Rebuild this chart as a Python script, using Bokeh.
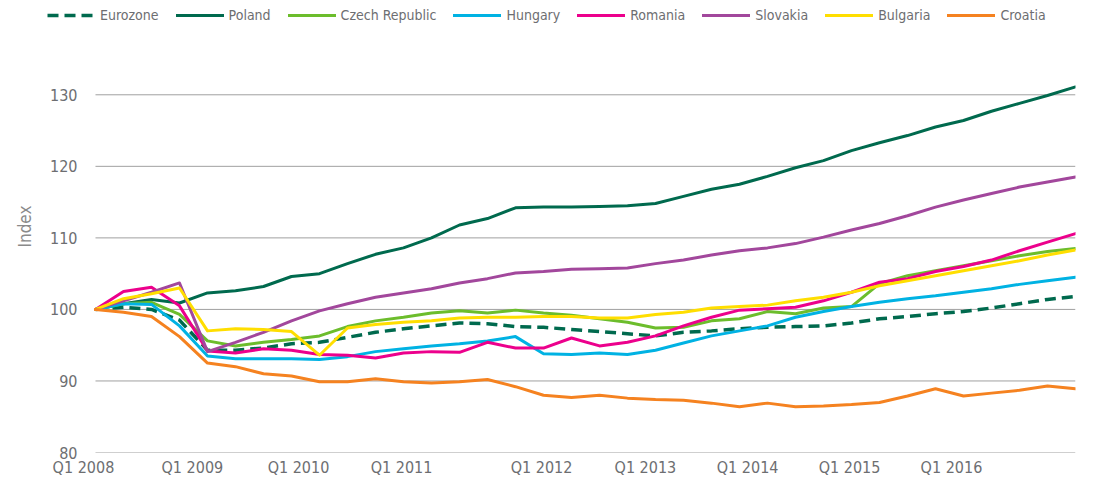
from bokeh.plotting import figure
from bokeh.models import Legend, LegendItem, FixedTicker, Range1d
from bokeh.embed import file_html
from bokeh.resources import INLINE

# quarterly index, Q1 2008 = 100 (Q1 2008 ... Q4 2016)
eurozone = [100, 100.3, 100.0, 98.5, 94.3, 94.3, 94.6, 95.2, 95.4, 96.1, 96.8, 97.3, 97.7, 98.1, 98.0, 97.6,
            97.5, 97.2, 96.9, 96.6, 96.3, 96.8, 97.0, 97.3, 97.5, 97.6, 97.7, 98.1, 98.7, 99.0, 99.4, 99.7,
            100.2, 100.8, 101.4, 101.8]
poland = [100, 100.8, 101.4, 100.9, 102.3, 102.6, 103.2, 104.6, 105.0, 106.4, 107.7, 108.6, 110.0, 111.8, 112.7, 114.2,
          114.3, 114.3, 114.4, 114.5, 114.8, 115.8, 116.8, 117.5, 118.6, 119.8, 120.8, 122.2, 123.3, 124.3, 125.5, 126.4,
          127.7, 128.8, 129.9, 131.1]
czech = [100, 100.8, 101.0, 99.3, 95.6, 94.9, 95.4, 95.8, 96.3, 97.6, 98.4, 98.9, 99.5, 99.8, 99.5, 99.9,
         99.5, 99.2, 98.7, 98.2, 97.4, 97.5, 98.4, 98.7, 99.7, 99.4, 100.2, 100.4, 103.6, 104.7, 105.4, 106.1,
         106.8, 107.5, 108.1, 108.5]
hungary = [100, 100.8, 100.7, 97.7, 93.5, 93.1, 93.1, 93.1, 93.0, 93.4, 94.1, 94.5, 94.9, 95.2, 95.6, 96.2,
           93.8, 93.7, 93.9, 93.7, 94.3, 95.3, 96.3, 97.0, 97.7, 98.9, 99.7, 100.4, 101.0, 101.5, 101.9, 102.4,
           102.9, 103.5, 104.0, 104.5]
romania = [100, 102.5, 103.1, 100.5, 94.2, 93.9, 94.5, 94.3, 93.7, 93.6, 93.2, 93.9, 94.1, 94.0, 95.4, 94.6,
           94.6, 96.0, 94.9, 95.4, 96.3, 97.7, 98.9, 99.9, 100.1, 100.3, 101.2, 102.4, 103.8, 104.3, 105.3, 106.0,
           106.9, 108.2, 109.4, 110.6]
slovakia = [100, 101.2, 102.4, 103.7, 94.1, 95.4, 96.8, 98.4, 99.8, 100.8, 101.7, 102.3, 102.9, 103.7, 104.3, 105.1,
            105.3, 105.6, 105.7, 105.8, 106.4, 106.9, 107.6, 108.2, 108.6, 109.2, 110.1, 111.1, 112.0, 113.1, 114.3, 115.3,
            116.2, 117.1, 117.8, 118.5]
bulgaria = [100, 101.5, 102.2, 103.0, 97.0, 97.3, 97.2, 96.9, 93.6, 97.4, 97.9, 98.2, 98.4, 98.8, 98.9, 98.9,
            99.0, 99.0, 98.8, 98.8, 99.3, 99.6, 100.2, 100.4, 100.6, 101.2, 101.7, 102.4, 103.3, 104.0, 104.7, 105.4,
            106.1, 106.8, 107.6, 108.3]
croatia = [100, 99.6, 99.0, 96.2, 92.5, 92.0, 91.0, 90.7, 89.9, 89.9, 90.3, 89.9, 89.7, 89.9, 90.2, 89.2,
           88.0, 87.7, 88.0, 87.6, 87.4, 87.3, 86.9, 86.4, 86.9, 86.4, 86.5, 86.7, 87.0, 87.9, 88.9, 87.9,
           88.3, 88.7, 89.3, 88.9]

series_names = ["Eurozone", "Poland", "Czech Republic", "Hungary", "Romania", "Slovakia", "Bulgaria", "Croatia"]
series_values = [eurozone, poland, czech, hungary, romania, slovakia, bulgaria, croatia]
series_colors = ["#006a4e", "#006a4e", "#6cbd2c", "#00b2e3", "#ec008c", "#a2479c", "#ffde00", "#f58220"]

x_tick_labels = ["Q1 2008", "Q1 2009", "Q1 2010", "Q1 2011", "Q1 2012", "Q1 2013", "Q1 2014", "Q1 2015", "Q1 2016"]
x_tick_pos = [-0.43, 3.46, 7.25, 10.93, 15.93, 19.64, 23.29, 26.93, 30.57]
y_ticks = [80, 90, 100, 110, 120, 130]

FONT = "DejaVu Sans Condensed, Roboto Condensed, Roboto, sans-serif"
TXT = "#6d6e71"

quarters = list(range(len(poland)))

p = figure(width=1112, height=482, output_backend="svg", toolbar_location=None,
           x_range=Range1d(-1.714, len(quarters) - 1), y_range=Range1d(80, 143.18),
           min_border_left=47, min_border_right=37, min_border_top=0, min_border_bottom=30)
p.outline_line_color = None
p.background_fill_color = "white"
p.border_fill_color = "white"
p.xgrid.visible = False
p.ygrid.visible = False

# horizontal gridlines spanning the data period only
p.segment(x0=[quarters[0]] * len(y_ticks), x1=[quarters[-1]] * len(y_ticks), y0=y_ticks, y1=y_ticks,
          line_color="#a0a0a0", line_width=1)

p.yaxis.ticker = FixedTicker(ticks=y_ticks)
p.xaxis.ticker = FixedTicker(ticks=x_tick_pos)
p.xaxis.major_label_overrides = {t: l for t, l in zip(x_tick_pos, x_tick_labels)}
for ax in (p.xaxis, p.yaxis):
    ax.axis_line_color = None
    ax.major_tick_line_color = None
    ax.minor_tick_line_color = None
    ax.major_tick_out = 0
    ax.major_tick_in = 0
    ax.minor_tick_out = 0
    ax.minor_tick_in = 0
    ax.major_label_text_font = FONT
    ax.major_label_text_color = TXT
    ax.major_label_text_font_size = "16px"
p.yaxis.major_label_standoff = -30
p.xaxis.major_label_standoff = 5
p.yaxis.axis_label = "Index"
p.yaxis.axis_label_text_font = FONT
p.yaxis.axis_label_text_font_style = "normal"
p.yaxis.axis_label_text_font_size = "17px"
p.yaxis.axis_label_text_color = "#8a8a8a"
p.yaxis.axis_label_standoff = 12

items = []
for name, vals, col in zip(series_names, series_values, series_colors):
    if name == "Eurozone":
        r = p.line(quarters, vals, line_color=col, line_width=3.5, line_dash="11 6")
    else:
        r = p.line(quarters, vals, line_color=col, line_width=3, line_join="round", line_cap="round")
    items.append(LegendItem(label=name, renderers=[r]))

legend = Legend(items=items, orientation="horizontal", location=(0, 429),
                label_text_font=FONT, label_text_font_size="14px", label_text_color=TXT,
                glyph_width=48, glyph_height=16, label_height=16, label_standoff=5, spacing=17,
                padding=0, margin=0, border_line_color=None, background_fill_alpha=0)
p.add_layout(legend, "center")

open("out.html", "w").write(file_html(p, INLINE))
